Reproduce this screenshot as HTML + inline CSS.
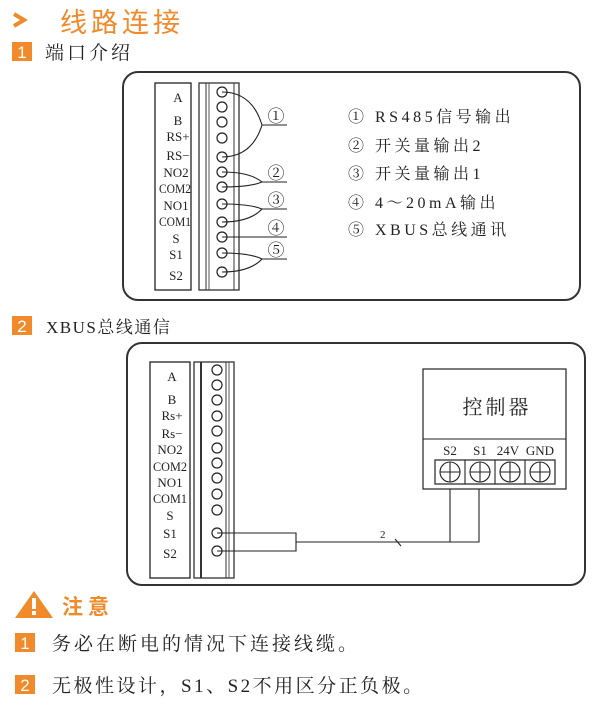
<!DOCTYPE html>
<html><head><meta charset="utf-8"><style>
body{margin:0;background:#fff;}
svg{display:block;}
.s{font-family:"Liberation Serif","Noto Serif CJK SC",serif;fill:#222;}
.k{font-family:"Liberation Sans","Noto Sans CJK SC",sans-serif;}
</style></head><body>
<svg width="603" height="703" viewBox="0 0 603 703" xmlns="http://www.w3.org/2000/svg">
<path d="M14 14 L24 20 L14 26" stroke="#f08a2a" stroke-width="4" fill="none"/>
<text x="60" y="32" class="k" font-size="27" fill="#f08a2a" letter-spacing="4">线路连接</text>
<rect x="12" y="42" width="20" height="19" fill="#f08a2a"/>
<text x="22" y="58" class="k" font-size="17" fill="#fff" text-anchor="middle">1</text>
<text x="45" y="59" class="s" font-size="19" fill="#222" letter-spacing="3">端口介绍</text>

<rect x="123" y="72" width="457" height="228" rx="15" fill="none" stroke="#333" stroke-width="2"/>
<rect x="155" y="83" width="36" height="207" fill="none" stroke="#222" stroke-width="1.3"/>
<rect x="199" y="83" width="40" height="207" fill="none" stroke="#333" stroke-width="1.3"/>
<line x1="206" y1="83" x2="206" y2="290" stroke="#333"/>
<line x1="209" y1="83" x2="209" y2="290" stroke="#555"/>
<line x1="234" y1="83" x2="234" y2="290" stroke="#333"/>
<g class="s" font-size="13" text-anchor="middle">
<text x="178" y="102">A</text><text x="178" y="125">B</text><text x="178" y="141">RS+</text><text x="178" y="160">RS−</text>
<text x="176" y="177">NO2</text><text x="175" y="193" textLength="32" lengthAdjust="spacingAndGlyphs">COM2</text><text x="176" y="210">NO1</text><text x="175" y="226" textLength="32" lengthAdjust="spacingAndGlyphs">COM1</text>
<text x="176" y="243">S</text><text x="176" y="259">S1</text><text x="176" y="280">S2</text>
</g>
<g fill="#fff" stroke="#222" stroke-width="1.2">
<circle cx="222" cy="92" r="5"/><circle cx="222" cy="107" r="5"/><circle cx="222" cy="122" r="5"/><circle cx="222" cy="138" r="5"/>
<circle cx="222" cy="157" r="5"/><circle cx="222" cy="172" r="5"/><circle cx="222" cy="187" r="5"/><circle cx="222" cy="204" r="5"/>
<circle cx="222" cy="222" r="5"/><circle cx="222" cy="237" r="5"/><circle cx="222" cy="253" r="5"/><circle cx="222" cy="272" r="5"/>
</g>
<g fill="none" stroke="#222" stroke-width="1.1">
<path d="M222 92 Q252 92 262 125 M222 157 Q252 157 262 125 M262 125 H287"/>
<path d="M222 172 Q250 172 262 182 M222 187 Q250 187 262 182 M262 182 H287"/>
<path d="M222 204 Q250 204 262 209 M222 222 Q250 222 262 209 M262 209 H287"/>
<path d="M222 237 H287"/>
<path d="M222 253 Q250 253 262 259 M222 272 Q250 272 262 259 M262 259 H287"/>
</g>
<g class="s" font-size="17" text-anchor="middle">
<text x="276" y="122">①</text><text x="276" y="179">②</text><text x="276" y="206">③</text><text x="276" y="234">④</text><text x="276" y="256">⑤</text>
</g>
<g class="s" font-size="16" letter-spacing="3.5">
<text x="348" y="122">① RS485信号输出</text>
<text x="348" y="151">② 开关量输出2</text>
<text x="348" y="179">③ 开关量输出1</text>
<text x="348" y="208">④ 4～20mA输出</text>
<text x="348" y="235">⑤ XBUS总线通讯</text>
</g>

<rect x="12" y="316" width="20" height="19" fill="#f08a2a"/>
<text x="22" y="332" class="k" font-size="17" fill="#fff" text-anchor="middle">2</text>
<text x="46" y="333" class="s" font-size="17" letter-spacing="1.5">XBUS总线通信</text>

<rect x="127" y="343" width="458" height="242" rx="15" fill="none" stroke="#333" stroke-width="2"/>
<rect x="150" y="362" width="40" height="216" fill="none" stroke="#222" stroke-width="1.3"/>
<rect x="194" y="362" width="40" height="216" fill="none" stroke="#333" stroke-width="1.3"/>
<line x1="201" y1="362" x2="201" y2="578" stroke="#333" stroke-width="2"/>
<line x1="226" y1="362" x2="226" y2="578" stroke="#333"/>
<line x1="229" y1="362" x2="229" y2="578" stroke="#555"/>
<g class="s" font-size="13" text-anchor="middle">
<text x="172" y="381">A</text><text x="172" y="404">B</text><text x="172" y="420">Rs+</text><text x="172" y="438">Rs−</text>
<text x="170" y="454">NO2</text><text x="170" y="471" textLength="34" lengthAdjust="spacingAndGlyphs">COM2</text><text x="170" y="487">NO1</text><text x="170" y="503" textLength="34" lengthAdjust="spacingAndGlyphs">COM1</text>
<text x="170" y="520">S</text><text x="170" y="538">S1</text><text x="170" y="558">S2</text>
</g>
<g fill="#fff" stroke="#222" stroke-width="1.2">
<circle cx="217" cy="370" r="5"/><circle cx="217" cy="385" r="5"/><circle cx="217" cy="400" r="5"/><circle cx="217" cy="416" r="5"/>
<circle cx="217" cy="431" r="5"/><circle cx="217" cy="448" r="5"/><circle cx="217" cy="463" r="5"/><circle cx="217" cy="478" r="5"/>
<circle cx="217" cy="494" r="5"/><circle cx="217" cy="510" r="5"/><circle cx="217" cy="533" r="5"/><circle cx="217" cy="551" r="5"/>
</g>
<g fill="none" stroke="#222" stroke-width="1.1">
<path d="M217 533 H296 V551 H217"/>
<path d="M296 542 H479 V482 M450 542 V482"/>
<path d="M395 539 L401 546"/>
</g>
<text x="380" y="538" class="s" font-size="11">2</text>

<rect x="423" y="369" width="143" height="120" fill="#fff" stroke="#222" stroke-width="1.2"/>
<line x1="423" y1="439" x2="566" y2="439" stroke="#222"/>
<text x="497" y="414" class="s" font-size="20" text-anchor="middle" letter-spacing="3">控制器</text>
<g class="s" font-size="13" text-anchor="middle">
<text x="450" y="455">S2</text><text x="480" y="455">S1</text><text x="508" y="455">24V</text><text x="540" y="455">GND</text>
</g>
<rect x="435" y="460" width="120" height="24" fill="#fff" stroke="#222" stroke-width="1.2"/>
<g stroke="#222" stroke-width="1.1" fill="none">
<line x1="465" y1="460" x2="465" y2="484"/><line x1="495" y1="460" x2="495" y2="484"/><line x1="525" y1="460" x2="525" y2="484"/>
<circle cx="450" cy="472" r="10"/><circle cx="480" cy="472" r="10"/><circle cx="510" cy="472" r="10"/><circle cx="540" cy="472" r="10"/>
<path d="M440 472 H460 M450 462 V482 M470 472 H490 M480 462 V482 M500 472 H520 M510 462 V482 M530 472 H550 M540 462 V482"/>
</g>

<path d="M34 591 L53 618 L15 618 Z" fill="#f08a2a"/>
<rect x="32" y="598" width="4" height="11" fill="#fff"/><rect x="32" y="611" width="4" height="4" fill="#fff"/>
<text x="62" y="614" class="k" font-size="21" font-weight="bold" fill="#f08a2a" letter-spacing="5">注意</text>
<rect x="15" y="633" width="20" height="19" fill="#f08a2a"/>
<text x="25" y="649" class="k" font-size="17" fill="#fff" text-anchor="middle">1</text>
<text x="52" y="650" class="s" font-size="19" letter-spacing="3">务必在断电的情况下连接线缆。</text>
<rect x="15" y="675" width="20" height="19" fill="#f08a2a"/>
<text x="25" y="691" class="k" font-size="17" fill="#fff" text-anchor="middle">2</text>
<text x="52" y="692" class="s" font-size="19" letter-spacing="2.5">无极性设计，S1、S2不用区分正负极。</text>
</svg>
</body></html>
